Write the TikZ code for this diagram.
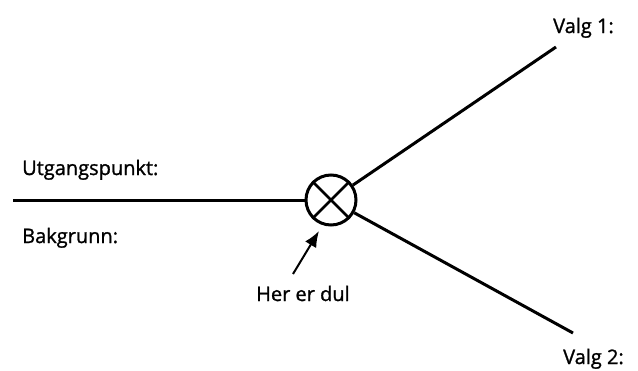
\documentclass[tikz,border=0pt]{standalone}
\usepackage{fontspec}
\setmainfont{Open Sans}[FakeBold=1.2,AutoFakeBold=1.2]
\usetikzlibrary{arrows.meta}
\begin{document}
\begin{tikzpicture}[x=1pt,y=-1pt,
  lbl/.style={inner sep=0pt,anchor=base west,font=\fontsize{20}{24}\selectfont\bfseries},
  thick line/.style={line width=3pt},
  junction/.style={circle,draw,line width=3pt,minimum size=50pt,inner sep=0pt}]
\useasboundingbox (0,0) rectangle (638,370);
\node[junction] (c) at (331,200) {};
\draw[line width=2.6pt] (c.north west) -- (c.south east);
\draw[line width=2.6pt] (c.north east) -- (c.south west);
\coordinate (l) at (13,200);
\coordinate (v1) at (556,47);
\coordinate (v2) at (573,333);
\draw[thick line] (l) -- (c);
\draw[thick line] (c) -- (v1);
\draw[thick line] (c) -- (v2);
\coordinate (at) at (293,274);
\coordinate (ah) at (319,231);
\draw[line width=2pt,-{Latex[length=16pt,width=13pt]}] (at) -- (ah);
\node[lbl] (t1) at (22,175) {Utgangspunkt:};
\node[lbl] (t2) at (22,243) {Bakgrunn:};
\node[lbl] (t3) at (256,301) {Her er dul};
\node[lbl] (t4) at (553,33) {Valg 1:};
\node[lbl] (t5) at (563,364) {Valg 2:};
\end{tikzpicture}
\end{document}
